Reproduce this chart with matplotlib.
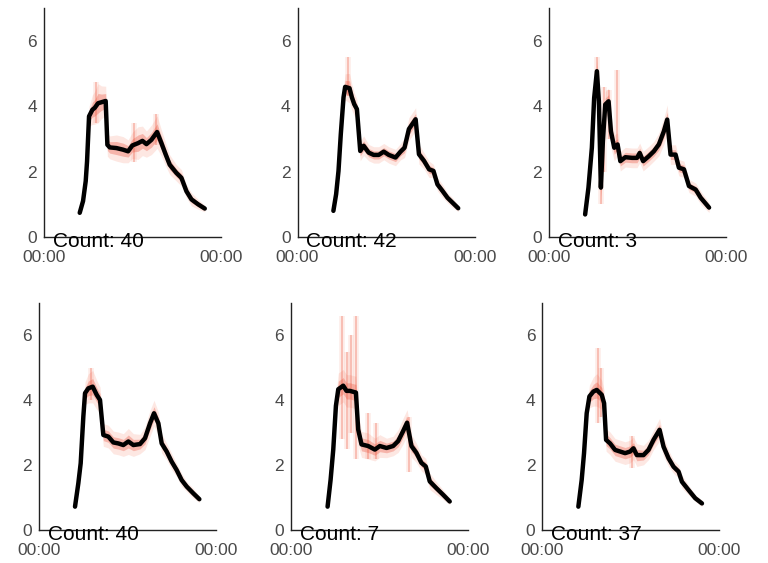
import matplotlib
matplotlib.use('Agg')
import matplotlib.pyplot as plt

plt.rcParams['font.family'] = ['Liberation Sans', 'DejaVu Sans']

# conteo de dias por panel
conteos = [40, 42, 3, 40, 7, 37]

# panel 1
horas_1 = [4.83, 5.28, 5.64, 5.82, 6.09, 6.54, 6.86, 7.31, 7.76, 8.34, 8.57, 8.89, 9.79, 10.69, 11.37,
           11.95, 12.72, 13.31, 13.85, 14.52, 15.29, 15.88, 16.46, 17.0, 17.9, 18.58, 19.26, 19.94, 20.84, 21.74]
media_1 = [0.74, 1.10, 1.71, 2.31, 3.69, 3.89, 3.95, 4.09, 4.12, 4.16, 2.82, 2.74, 2.72, 2.67, 2.62,
           2.80, 2.87, 2.94, 2.84, 2.97, 3.21, 2.87, 2.52, 2.21, 1.96, 1.81, 1.40, 1.15, 1.00, 0.87]
rango_1 = [0.03, 0.05, 0.1, 0.15, 0.3, 0.45, 0.5, 0.6, 0.5, 0.45, 0.35, 0.35, 0.4, 0.4, 0.35,
           0.4, 0.5, 0.45, 0.4, 0.45, 0.5, 0.4, 0.35, 0.3, 0.25, 0.25, 0.2, 0.2, 0.15, 0.1]
picos_1 = [(12.2, 2.3, 3.5), (15.2, 2.8, 3.75), (7.0, 3.5, 4.75)]

# panel 2
horas_2 = [4.85, 5.22, 5.54, 5.85, 6.22, 6.44, 7.03, 7.35, 7.67, 8.03, 8.48, 8.94, 9.62, 10.30, 10.98, 11.66,
           12.34, 13.25, 13.93, 14.47, 15.06, 15.97, 16.42, 17.10, 17.79, 18.38, 18.92, 19.60, 20.28, 20.96, 21.73]
media_2 = [0.80, 1.31, 2.02, 3.14, 4.27, 4.59, 4.55, 4.27, 4.06, 3.91, 2.63, 2.79, 2.58, 2.51, 2.51, 2.61,
           2.51, 2.43, 2.61, 2.73, 3.30, 3.60, 2.53, 2.33, 2.07, 2.02, 1.61, 1.41, 1.20, 1.05, 0.88]
rango_2 = [0.03, 0.05, 0.1, 0.15, 0.3, 0.4, 0.45, 0.4, 0.35, 0.3, 0.3, 0.3, 0.25, 0.25, 0.25, 0.25,
           0.25, 0.25, 0.25, 0.3, 0.35, 0.35, 0.3, 0.25, 0.25, 0.2, 0.2, 0.2, 0.15, 0.15, 0.1]
picos_2 = [(6.8, 4.3, 5.5)]

# panel 3
horas_3 = [4.89, 5.34, 5.80, 6.11, 6.48, 6.75, 7.02, 7.29, 7.61, 8.06, 8.38, 8.83, 9.28, 9.65, 10.33, 11.23,
           11.91, 12.27, 12.73, 13.50, 14.18, 14.86, 15.53, 15.99, 16.44, 17.12, 17.57, 18.25, 18.93, 19.84, 20.52, 21.65]
media_3 = [0.69, 1.51, 2.73, 4.25, 5.07, 4.15, 1.51, 2.93, 4.05, 4.15, 3.23, 2.73, 2.83, 2.32, 2.44, 2.42,
           2.42, 2.57, 2.32, 2.47, 2.62, 2.83, 3.23, 3.59, 2.52, 2.52, 2.12, 2.07, 1.56, 1.45, 1.20, 0.90]
rango_3 = [0.03, 0.05, 0.1, 0.2, 0.4, 0.4, 0.5, 0.5, 0.4, 0.4, 0.5, 0.4, 0.35, 0.3, 0.3, 0.3,
           0.3, 0.3, 0.3, 0.3, 0.3, 0.35, 0.4, 0.45, 0.3, 0.3, 0.25, 0.25, 0.2, 0.2, 0.2, 0.15]
picos_3 = [(6.5, 4.6, 5.5), (7.0, 1.0, 2.5), (7.4, 2.0, 4.6), (9.2, 2.6, 5.1), (8.1, 3.0, 4.5)]

# panel 4
horas_4 = [4.88, 5.33, 5.65, 6.01, 6.24, 6.69, 7.28, 7.82, 8.27, 8.72, 9.40, 10.08, 10.75, 11.43, 12.11,
           12.79, 13.69, 14.37, 15.05, 15.59, 16.18, 16.63, 17.31, 17.98, 18.66, 19.34, 20.02, 20.92, 21.74]
media_4 = [0.72, 1.44, 2.06, 3.50, 4.22, 4.37, 4.42, 4.17, 4.01, 2.93, 2.88, 2.70, 2.67, 2.62, 2.73,
           2.62, 2.65, 2.83, 3.29, 3.60, 3.29, 2.67, 2.42, 2.11, 1.85, 1.54, 1.34, 1.13, 0.95]
rango_4 = [0.03, 0.05, 0.1, 0.2, 0.35, 0.45, 0.5, 0.45, 0.4, 0.35, 0.35, 0.35, 0.35, 0.35, 0.4,
           0.35, 0.3, 0.35, 0.4, 0.4, 0.35, 0.3, 0.25, 0.25, 0.2, 0.2, 0.15, 0.15, 0.1]
picos_4 = [(7.0, 4.0, 5.0)]

# panel 5
horas_5 = [4.96, 5.37, 5.73, 6.09, 6.41, 7.08, 7.53, 7.98, 8.80, 9.11, 9.56, 10.46, 11.37, 12.04,
           12.95, 13.85, 14.52, 15.20, 15.74, 16.33, 17.00, 17.68, 18.27, 18.81, 19.71, 20.61, 21.52]
media_5 = [0.72, 1.55, 2.48, 3.83, 4.34, 4.45, 4.29, 4.29, 4.24, 3.10, 2.64, 2.59, 2.48, 2.59,
           2.53, 2.59, 2.74, 3.05, 3.31, 2.59, 2.38, 2.07, 1.96, 1.50, 1.29, 1.09, 0.88]
rango_5 = [0.03, 0.05, 0.15, 0.3, 0.5, 0.5, 0.5, 0.5, 0.5, 0.5, 0.4, 0.4, 0.35, 0.35,
           0.3, 0.3, 0.35, 0.4, 0.4, 0.35, 0.3, 0.25, 0.25, 0.25, 0.2, 0.15, 0.1]
picos_5 = [(6.9, 2.8, 6.6), (7.6, 2.5, 5.5), (8.85, 2.2, 6.6), (8.1, 3.0, 6.0),
           (10.4, 2.2, 3.6), (11.5, 2.2, 3.3), (16.0, 1.8, 3.5)]

# panel 6
horas_6 = [4.89, 5.34, 5.66, 6.02, 6.39, 6.93, 7.38, 8.06, 8.38, 8.65, 9.19, 9.87, 10.55, 11.23, 11.91,
           12.36, 12.82, 13.72, 14.40, 15.08, 15.90, 16.44, 17.12, 17.80, 18.48, 18.93, 19.84, 20.74, 21.65]
media_6 = [0.72, 1.54, 2.37, 3.60, 4.12, 4.27, 4.32, 4.17, 3.91, 2.78, 2.67, 2.47, 2.42, 2.37, 2.42,
           2.52, 2.31, 2.31, 2.47, 2.78, 3.09, 2.57, 2.21, 1.95, 1.80, 1.49, 1.23, 0.98, 0.82]
rango_6 = [0.03, 0.05, 0.1, 0.2, 0.35, 0.45, 0.5, 0.45, 0.4, 0.35, 0.35, 0.35, 0.35, 0.35, 0.35,
           0.35, 0.35, 0.3, 0.3, 0.3, 0.35, 0.3, 0.25, 0.2, 0.2, 0.2, 0.15, 0.1, 0.1]
picos_6 = [(7.5, 3.3, 5.6), (8.0, 3.5, 5.0), (12.2, 1.9, 2.9)]

paneles = [
    (horas_1, media_1, rango_1, picos_1),
    (horas_2, media_2, rango_2, picos_2),
    (horas_3, media_3, rango_3, picos_3),
    (horas_4, media_4, rango_4, picos_4),
    (horas_5, media_5, rango_5, picos_5),
    (horas_6, media_6, rango_6, picos_6),
]

etiquetas_x = ['00:00', '00:00']

# posiciones de los ejes (fraccion de figura)
posiciones = [
    [0.0573, 0.579, 0.2311, 0.4067],
    [0.3874, 0.579, 0.2311, 0.4067],
    [0.7148, 0.579, 0.2311, 0.4067],
    [0.0508, 0.0586, 0.2305, 0.4032],
    [0.3789, 0.0586, 0.2305, 0.4032],
    [0.7061, 0.0586, 0.2305, 0.4032],
]

fig = plt.figure(figsize=(7.68, 5.63), dpi=100)

for i, (horas, media, rango, picos) in enumerate(paneles):
    ax = fig.add_axes(posiciones[i])

    # banda de dias individuales
    bajo = [m - r for m, r in zip(media, rango)]
    alto = [m + r for m, r in zip(media, rango)]
    ax.fill_between(horas, bajo, alto, color='#f7937c', alpha=0.22, linewidth=0)
    bajo2 = [m - r * 0.5 for m, r in zip(media, rango)]
    alto2 = [m + r * 0.5 for m, r in zip(media, rango)]
    ax.fill_between(horas, bajo2, alto2, color='#e8402a', alpha=0.3, linewidth=0)

    # picos de dias sueltos
    for h, lo, hi in picos:
        ax.vlines(h, lo, hi, color='#f5826a', alpha=0.15, linewidth=4)
        ax.vlines(h, lo, hi, color='#ec4a30', alpha=0.3, linewidth=1.3)

    # media
    ax.plot(horas, media, color='black', linewidth=3.2,
            solid_joinstyle='round', solid_capstyle='round')

    ax.set_xlim(0, 24)
    ax.set_ylim(0, 7)
    ax.set_xticks([0, 24])
    ax.set_xticklabels(etiquetas_x)
    ax.set_yticks([0, 2, 4, 6])
    ax.tick_params(axis='both', length=0, labelsize=12.5, labelcolor='#4a4a4a')
    ax.tick_params(axis='x', pad=9)
    ax.tick_params(axis='y', pad=5)

    for lado in ['top', 'right']:
        ax.spines[lado].set_visible(False)
    for lado in ['left', 'bottom']:
        ax.spines[lado].set_color('#222222')
        ax.spines[lado].set_linewidth(1.0)

    ax.text(0.05, -0.044, 'Count: ' + str(conteos[i]), transform=ax.transAxes,
            fontsize=15, color='black', va='baseline', ha='left', zorder=10, clip_on=False)

plt.savefig('out.png', dpi=100)
print("Grafica completada")
